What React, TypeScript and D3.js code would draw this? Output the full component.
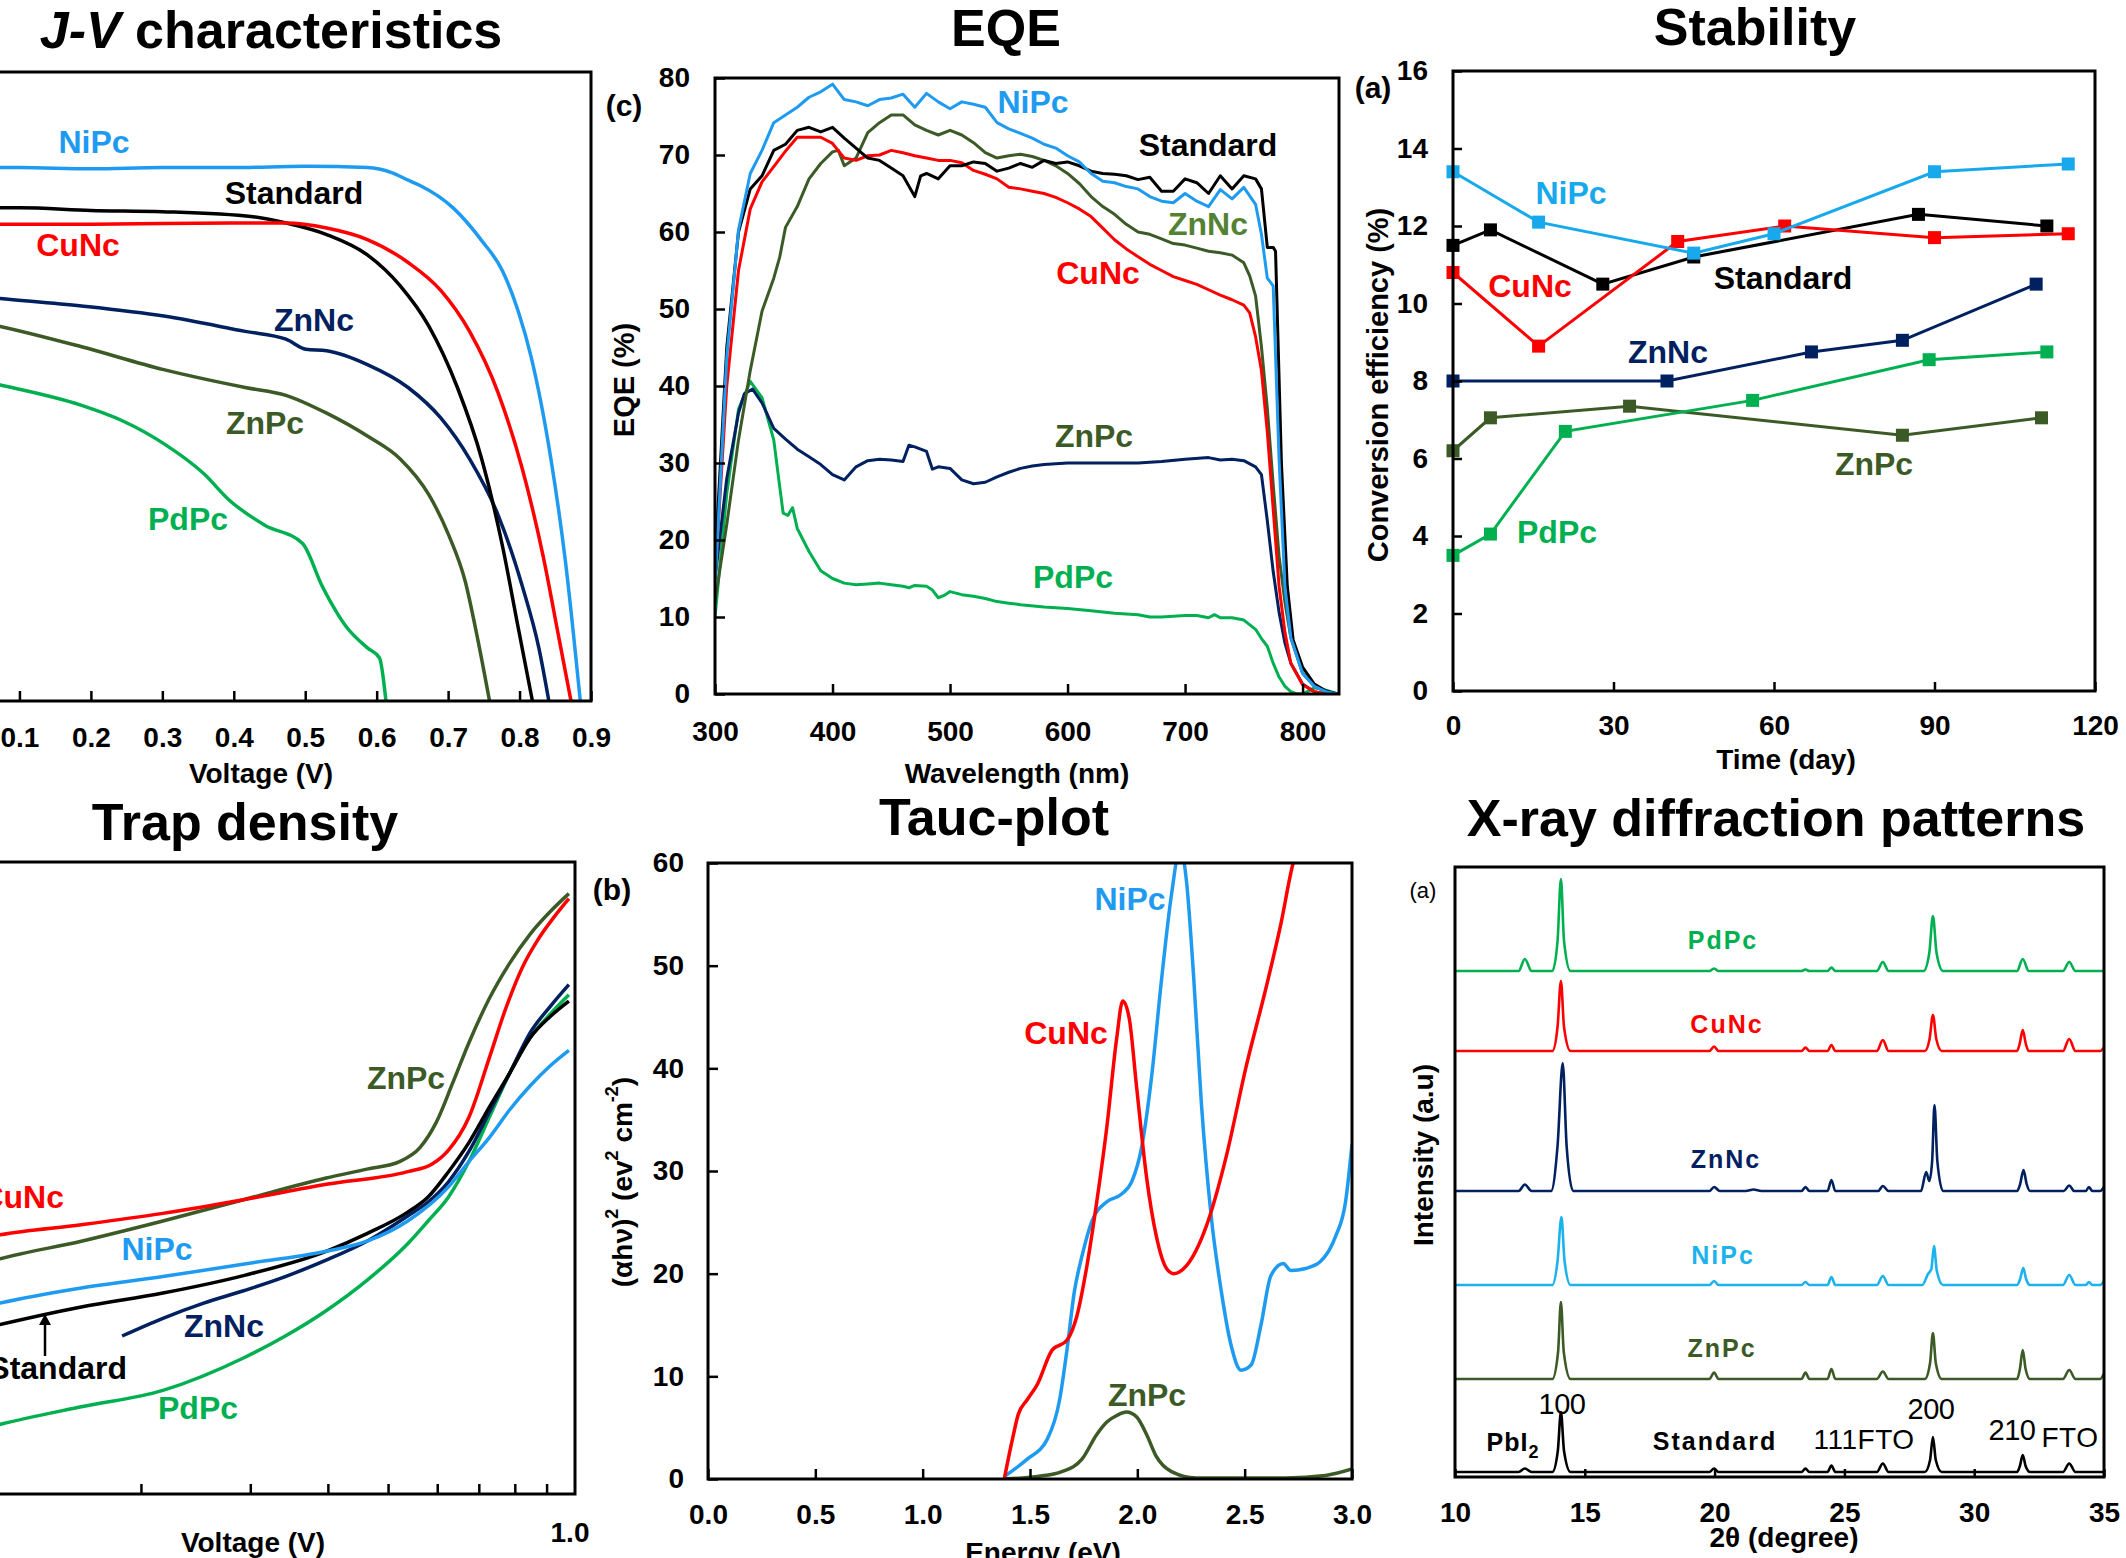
import React, { useEffect, useRef } from 'react';
import * as d3 from 'd3';

type Pt = [number, number];

const FONT = '"Liberation Sans", Arial, Helvetica, sans-serif';
const BLUE = '#1E9BF0';
const BLUE_STAB = '#17A9EC';
const BLUE_XRD = '#1CB2EC';
const NAVY = '#002060';
const OLIVE = '#3B5A26';
const OLIVE_LIGHT = '#548235';
const GREEN = '#00B050';
const RED = '#FF0000';
const BLACK = '#000000';

// ---------- J-V characteristics (voltage V, current density mA/cm2) ----------
const jvNiPc: Pt[] = [[0, 21.2], [0.1, 21.2], [0.2, 21.15], [0.3, 21.2], [0.4, 21.2], [0.5, 21.25], [0.587, 21.2], [0.621, 21.0], [0.644, 20.7], [0.66, 20.5], [0.707, 19.6], [0.747, 18.3], [0.776, 17.1], [0.798, 15.5], [0.816, 13.7], [0.844, 9.6], [0.864, 5.6], [0.885, 0]];
const jvStandard: Pt[] = [[0, 19.6], [0.1, 19.6], [0.2, 19.5], [0.3, 19.45], [0.427, 19.25], [0.473, 19.0], [0.53, 18.54], [0.587, 17.73], [0.633, 16.5], [0.673, 14.9], [0.713, 12.46], [0.747, 9.62], [0.776, 6.17], [0.798, 2.93], [0.818, 0]];
const jvCuNc: Pt[] = [[0, 18.95], [0.2, 18.95], [0.4, 19.0], [0.473, 19.0], [0.53, 18.8], [0.587, 18.34], [0.644, 17.43], [0.69, 16.31], [0.73, 14.69], [0.77, 12.25], [0.804, 9.21], [0.833, 5.76], [0.855, 2.52], [0.872, 0]];
const jvZnNc: Pt[] = [[0, 16.2], [0.073, 16.0], [0.187, 15.7], [0.302, 15.3], [0.416, 14.69], [0.473, 14.38], [0.501, 13.98], [0.53, 13.92], [0.587, 13.37], [0.644, 12.46], [0.69, 11.24], [0.73, 9.62], [0.77, 7.39], [0.804, 4.55], [0.827, 2.11], [0.841, 0]];
const jvZnPc: Pt[] = [[0, 15.3], [0.073, 14.89], [0.187, 14.08], [0.302, 13.17], [0.416, 12.46], [0.473, 12.15], [0.53, 11.44], [0.587, 10.53], [0.633, 9.62], [0.673, 8.2], [0.701, 6.58], [0.724, 4.75], [0.741, 2.52], [0.758, 0]];
const jvPdPc: Pt[] = [[0, 13.0], [0.073, 12.56], [0.187, 11.75], [0.244, 11.14], [0.302, 10.23], [0.359, 9.01], [0.393, 8.0], [0.444, 6.98], [0.496, 6.27], [0.524, 4.55], [0.558, 2.93], [0.587, 2.11], [0.604, 1.71], [0.613, 0]];
const jvTicks = [0.1, 0.2, 0.3, 0.4, 0.5, 0.6, 0.7, 0.8, 0.9];

// ---------- EQE (wavelength nm, EQE %) ----------
const eqeNiPc: Pt[] = [[300, 14], [310, 43.7], [320, 60.3], [330, 67.6], [340, 70.6], [350, 74.2], [360, 75.2], [370, 76.2], [380, 77.5], [390, 78.2], [400, 79.2], [410, 77.2], [420, 76.9], [430, 76.4], [440, 77.2], [450, 77.4], [460, 77.9], [470, 76.2], [480, 78.0], [490, 76.9], [500, 76.0], [510, 76.9], [520, 76.6], [530, 76.2], [540, 74.2], [550, 73.4], [560, 72.8], [570, 72.2], [580, 71.4], [590, 70.9], [600, 69.9], [610, 69.1], [620, 67.6], [630, 66.6], [640, 66.4], [650, 65.9], [660, 65.6], [670, 64.6], [680, 64.0], [690, 63.8], [700, 65.0], [710, 64.0], [720, 63.3], [730, 65.5], [740, 64.3], [750, 65.8], [760, 63.6], [765, 59.7], [770, 54.0], [775, 53.0], [780, 30.5], [785, 13.9], [790, 7.3], [800, 2.7], [810, 1.0], [820, 0.3], [830, 0]];
const eqeStandard: Pt[] = [[300, 17], [310, 45], [320, 60], [330, 65.6], [340, 67.3], [350, 70.6], [360, 71.4], [370, 73.2], [380, 73.6], [390, 73.0], [400, 73.6], [410, 72.2], [420, 70.9], [430, 69.6], [440, 69.3], [450, 68.3], [460, 67.3], [470, 64.6], [475, 67.3], [480, 67.6], [490, 66.9], [500, 68.6], [510, 68.6], [520, 69.1], [530, 68.9], [540, 67.9], [550, 68.3], [560, 68.9], [570, 68.4], [580, 69.3], [590, 68.9], [600, 69.1], [610, 68.6], [620, 67.9], [630, 67.6], [640, 67.5], [650, 67.3], [660, 66.8], [670, 67.1], [680, 65.3], [690, 65.3], [700, 66.9], [710, 66.4], [720, 65.0], [730, 67.3], [740, 65.6], [750, 67.3], [760, 66.9], [765, 65.6], [770, 58.0], [775, 58.0], [777, 57.5], [782, 30], [787, 14], [792, 7], [800, 3.5], [810, 1.3], [820, 0.4], [830, 0]];
const eqeCuNc: Pt[] = [[300, 15], [310, 40], [320, 55], [330, 63], [340, 66.5], [350, 68.5], [360, 70.5], [370, 72.3], [380, 72.3], [390, 72.3], [400, 71.5], [410, 69.6], [420, 69.3], [430, 69.9], [440, 70.0], [450, 70.6], [460, 70.3], [470, 69.9], [480, 69.6], [490, 69.3], [500, 69.3], [510, 69.0], [520, 68.0], [530, 67.5], [540, 66.9], [550, 65.8], [560, 65.6], [570, 65.3], [580, 65.0], [590, 64.5], [600, 63.8], [610, 63.0], [620, 62.0], [630, 60.5], [640, 59.0], [650, 57.8], [660, 56.8], [670, 55.8], [680, 55.0], [690, 54.2], [700, 53.7], [710, 53.2], [720, 52.5], [730, 51.8], [740, 51.2], [750, 50.5], [755, 49.5], [760, 46.4], [765, 42], [770, 34], [775, 24], [780, 14], [785, 8], [790, 4], [800, 1.2], [810, 0.3], [820, 0], [830, 0]];
const eqeZnNc: Pt[] = [[300, 12], [310, 22], [320, 33], [330, 42], [340, 49.7], [350, 54.0], [355, 56.7], [360, 60.6], [370, 63.3], [380, 66.9], [390, 68.9], [400, 70.4], [405, 70.6], [410, 68.6], [420, 69.6], [430, 72.9], [440, 74.2], [450, 75.2], [460, 75.2], [470, 73.9], [480, 73.2], [490, 72.6], [500, 73.2], [510, 72.6], [520, 71.6], [530, 70.3], [540, 69.6], [550, 69.9], [560, 70.1], [570, 69.8], [580, 69.3], [590, 68.6], [600, 67.6], [610, 66.3], [620, 64.6], [630, 63.3], [640, 62.3], [650, 61.0], [660, 60.0], [670, 59.7], [680, 59.1], [690, 58.5], [700, 58.3], [710, 57.9], [720, 57.5], [730, 57.3], [740, 57.0], [750, 56.0], [755, 54.3], [760, 51.7], [765, 45.1], [770, 37.1], [775, 27.2], [780, 17.9], [785, 11.9], [790, 7.3], [800, 2.7], [810, 1.0], [820, 0.3], [830, 0]];
const eqeZnPc: Pt[] = [[300, 15], [310, 28], [320, 36.5], [325, 39], [332, 39.6], [340, 37.8], [350, 34.5], [360, 33.1], [370, 31.8], [380, 30.8], [390, 29.8], [400, 28.5], [410, 27.8], [420, 29.5], [430, 30.3], [440, 30.5], [450, 30.4], [460, 30.2], [465, 32.3], [470, 32.1], [480, 31.5], [485, 29.2], [490, 29.5], [500, 29.3], [510, 27.8], [520, 27.3], [530, 27.5], [540, 28.2], [550, 28.8], [560, 29.3], [570, 29.6], [580, 29.8], [600, 30.0], [620, 30.0], [640, 30.0], [660, 30.0], [680, 30.2], [700, 30.5], [720, 30.7], [730, 30.4], [740, 30.5], [750, 30.3], [760, 29.5], [765, 28.5], [770, 22.5], [775, 15.9], [780, 10.6], [785, 6.6], [790, 4.0], [800, 1.3], [810, 0.3], [820, 0], [830, 0]];
const eqePdPc: Pt[] = [[300, 10], [310, 26], [320, 37], [330, 40.6], [340, 38.5], [350, 33], [355, 27], [358, 23.5], [362, 23.2], [366, 24.2], [370, 21.5], [380, 18.5], [390, 16.0], [400, 15.0], [410, 14.4], [420, 14.2], [430, 14.3], [440, 14.4], [450, 14.2], [460, 14.0], [465, 13.8], [470, 14.1], [480, 14.0], [485, 13.5], [490, 12.5], [495, 12.8], [500, 13.3], [510, 12.9], [520, 12.7], [530, 12.4], [540, 12.0], [550, 11.8], [560, 11.6], [580, 11.3], [600, 11.1], [620, 10.8], [640, 10.5], [660, 10.3], [670, 10.0], [680, 10.0], [700, 10.2], [710, 10.2], [720, 9.9], [725, 10.3], [730, 9.9], [740, 9.9], [750, 9.6], [760, 8.4], [765, 7.2], [770, 6.2], [775, 4.0], [780, 2.2], [785, 1.0], [790, 0.3], [795, 0], [800, 0], [810, 0.8], [820, 0.5], [830, 0]];
const eqeXTicks = [300, 400, 500, 600, 700, 800];
const eqeYTicks = [0, 10, 20, 30, 40, 50, 60, 70, 80];

// ---------- Stability (day, efficiency %) ----------
const stabNiPcDays = [0, 16, 45, 60, 90, 115];
const stabNiPc = [13.4, 12.1, 11.3, 11.8, 13.4, 13.6];
const stabStandardDays = [0, 7, 28, 45, 87, 111];
const stabStandard = [11.5, 11.9, 10.5, 11.2, 12.3, 12.0];
const stabCuNcDays = [0, 16, 42, 62, 90, 115];
const stabCuNc = [10.8, 8.9, 11.6, 12.0, 11.7, 11.8];
const stabZnNcDays = [0, 40, 67, 84, 109];
const stabZnNc = [8.0, 8.0, 8.75, 9.05, 10.5];
const stabZnPcDays = [0, 7, 33, 84, 110];
const stabZnPc = [6.2, 7.05, 7.35, 6.6, 7.05];
const stabPdPcDays = [0, 7, 21, 56, 89, 111];
const stabPdPc = [3.5, 4.05, 6.7, 7.5, 8.55, 8.75];
const stabXTicks = [0, 30, 60, 90, 120];
const stabYTicks = [0, 2, 4, 6, 8, 10, 12, 14, 16];

// ---------- Trap density (voltage V, log10 J) ----------
const trapZnPc: Pt[] = [[0.1, -3.25], [0.1185, -3.14], [0.1603, -3.0], [0.217, -2.84], [0.2936, -2.67], [0.3974, -2.5], [0.4623, -2.43], [0.5219, -2.37], [0.5627, -2.26], [0.5978, -2.06], [0.6352, -1.75], [0.6748, -1.43], [0.7278, -1.08], [0.785, -0.8], [0.8469, -0.57], [0.9133, -0.39], [0.9776, -0.25]];
const trapCuNc: Pt[] = [[0.1, -3.03], [0.1185, -2.95], [0.1603, -2.87], [0.217, -2.78], [0.2936, -2.67], [0.3974, -2.55], [0.5378, -2.45], [0.5888, -2.39], [0.6256, -2.28], [0.6748, -2.02], [0.7278, -1.55], [0.7734, -1.16], [0.8215, -0.84], [0.8727, -0.61], [0.9272, -0.43], [0.9776, -0.29]];
const trapNiPc: Pt[] = [[0.1, -3.58], [0.1185, -3.49], [0.1603, -3.37], [0.217, -3.28], [0.2936, -3.18], [0.3974, -3.08], [0.4623, -3.0], [0.5378, -2.84], [0.6256, -2.57], [0.6748, -2.37], [0.7278, -2.18], [0.785, -1.96], [0.8469, -1.77], [0.9133, -1.61], [0.9776, -1.49]];
const trapStandard: Pt[] = [[0.1, -3.75], [0.1185, -3.66], [0.1603, -3.52], [0.217, -3.41], [0.2936, -3.27], [0.3974, -3.08], [0.4623, -2.94], [0.5378, -2.77], [0.58, -2.65], [0.6256, -2.45], [0.6748, -2.22], [0.7278, -1.94], [0.785, -1.67], [0.8469, -1.39], [0.9133, -1.22], [0.9776, -1.1]];
const trapZnNc: Pt[] = [[0.1865, -3.75], [0.217, -3.61], [0.2524, -3.49], [0.2936, -3.39], [0.3416, -3.28], [0.3974, -3.15], [0.4623, -3.0], [0.5378, -2.8], [0.58, -2.69], [0.6256, -2.53], [0.6748, -2.29], [0.7278, -1.98], [0.785, -1.67], [0.8469, -1.35], [0.9133, -1.14], [0.9776, -0.97]];
const trapPdPc: Pt[] = [[0.1, -4.55], [0.1185, -4.45], [0.1603, -4.31], [0.217, -4.18], [0.2936, -3.92], [0.3416, -3.75], [0.3974, -3.55], [0.4623, -3.31], [0.5378, -3.02], [0.58, -2.84], [0.6256, -2.65], [0.6748, -2.37], [0.7278, -2.02], [0.785, -1.67], [0.8469, -1.39], [0.9133, -1.2], [0.9776, -1.05]];
const trapTicks = [0.2, 0.3, 0.4, 0.5, 0.6, 0.7, 0.8, 0.9];

// ---------- Tauc plot (energy eV, (αhν)^2) ----------
const taucCuNc: Pt[] = [[1.38, 0], [1.418, 3.86], [1.445, 6.27], [1.487, 7.72], [1.533, 9.17], [1.603, 12.55], [1.672, 13.51], [1.719, 15.93], [1.765, 20.75], [1.811, 27.0], [1.858, 34.3], [1.904, 42.95], [1.932, 46.57], [1.962, 44.9], [1.997, 38.1], [2.043, 29.4], [2.089, 23.6], [2.136, 20.5], [2.17, 20.0], [2.228, 20.75], [2.321, 24.6], [2.414, 31.4], [2.506, 40.1], [2.599, 47.8], [2.669, 54.1], [2.726, 60], [2.76, 62]];
const taucNiPc: Pt[] = [[1.38, 0.24], [1.487, 1.93], [1.58, 3.86], [1.638, 7.72], [1.672, 12.55], [1.707, 18.3], [1.742, 21.7], [1.788, 25.1], [1.858, 27.0], [1.927, 27.75], [1.974, 28.96], [2.02, 32.3], [2.066, 39.1], [2.113, 48.7], [2.159, 56.9], [2.2, 61.5], [2.228, 58.4], [2.263, 48.7], [2.298, 36.7], [2.344, 25.6], [2.391, 18.3], [2.437, 13.0], [2.483, 10.6], [2.53, 11.1], [2.576, 15.0], [2.622, 19.8], [2.68, 21.0], [2.715, 20.3], [2.784, 20.5], [2.854, 21.2], [2.923, 23.6], [2.97, 27.0], [3.0, 32.6]];
const taucZnPc: Pt[] = [[1.38, 0], [1.533, 0.24], [1.649, 0.72], [1.742, 1.93], [1.811, 4.34], [1.858, 5.55], [1.904, 6.18], [1.95, 6.52], [1.997, 6.03], [2.043, 4.34], [2.089, 2.17], [2.159, 0.72], [2.275, 0.1], [2.692, 0.1], [2.877, 0.34], [3.0, 0.97]];
const taucXTicks = [0, 0.5, 1.0, 1.5, 2.0, 2.5, 3.0];
const taucYTicks = [0, 10, 20, 30, 40, 50, 60];

// ---------- XRD (2θ degree, intensity a.u.) ----------
const xrdNames = ['Standard', 'ZnPc', 'NiPc', 'ZnNc', 'CuNc', 'PdPc'];
const xrdOffsets = [5, 98, 192, 286, 426, 506];
const xrdStandard: Pt[] = [[10, 0], [12.45, 0], [12.69, 3.5], [12.95, 0], [13.75, 0], [13.96, 21], [14.08, 60], [14.2, 21], [14.45, 0], [19.8, 0], [19.98, 3.5], [20.15, 0], [23.35, 0], [23.5, 3.5], [23.65, 0], [24.35, 0], [24.5, 6.5], [24.65, 0], [26.25, 0], [26.48, 8.5], [26.7, 0], [28.1, 0], [28.3, 12], [28.41, 35], [28.52, 12], [28.75, 0], [31.65, 0], [31.76, 6], [31.87, 17], [31.98, 6], [32.15, 0], [33.42, 0], [33.66, 8.5], [33.9, 0], [35, 0]];
const xrdZnPc: Pt[] = [[10, 0], [13.75, 0], [13.97, 27], [14.08, 77], [14.19, 27], [14.45, 0], [19.8, 0], [19.98, 6.5], [20.15, 0], [23.35, 0], [23.5, 6.5], [23.65, 0], [24.35, 0], [24.5, 10], [24.65, 0], [26.25, 0], [26.48, 7.5], [26.7, 0], [28.1, 0], [28.3, 16], [28.41, 46], [28.52, 16], [28.75, 0], [31.65, 0], [31.76, 10], [31.87, 29], [31.98, 10], [32.15, 0], [33.42, 0], [33.66, 9], [33.9, 0], [34.85, 0], [35, 5.5]];
const xrdNiPc: Pt[] = [[10, 0], [13.75, 0], [13.95, 24], [14.1, 68], [14.22, 24], [14.45, 0], [19.8, 0], [19.98, 4], [20.15, 0], [23.35, 0], [23.5, 3], [23.65, 0], [24.35, 0], [24.5, 8], [24.65, 0], [26.25, 0], [26.48, 9], [26.7, 0], [28.0, 0], [28.22, 11], [28.35, 16], [28.45, 39], [28.56, 14], [28.8, 0], [31.65, 0], [31.77, 6], [31.89, 17], [32.0, 6], [32.15, 0], [33.42, 0], [33.66, 10], [33.9, 0], [34.3, 0], [34.42, 3], [34.55, 0], [34.85, 0], [35, 4]];
const xrdZnNc: Pt[] = [[10, 0], [12.45, 0], [12.69, 6.5], [12.95, 0], [13.7, 0], [13.95, 45], [14.15, 128], [14.3, 45], [14.55, 0], [19.8, 0], [19.98, 4], [20.2, 0], [21.2, 0], [21.5, 1.5], [21.8, 0], [23.35, 0], [23.5, 4], [23.65, 0], [24.35, 0], [24.5, 11], [24.65, 0], [26.3, 0], [26.48, 5], [26.7, 0], [27.95, 0], [28.15, 19], [28.27, 10], [28.38, 30], [28.47, 86], [28.58, 30], [28.8, 0], [31.65, 0], [31.77, 7], [31.9, 21], [32.02, 7], [32.15, 0], [33.45, 0], [33.66, 5.5], [33.85, 0], [34.3, 0], [34.42, 4], [34.55, 0], [34.85, 0], [35, 4]];
const xrdCuNc: Pt[] = [[10, 0], [13.75, 0], [13.95, 24], [14.08, 70], [14.2, 24], [14.45, 0], [19.8, 0], [19.98, 4.5], [20.15, 0], [23.35, 0], [23.5, 3.5], [23.65, 0], [24.35, 0], [24.5, 6], [24.65, 0], [26.25, 0], [26.48, 11], [26.7, 0], [28.1, 0], [28.28, 12], [28.41, 36], [28.54, 12], [28.75, 0], [31.65, 0], [31.75, 7], [31.87, 21], [31.99, 7], [32.1, 0], [33.42, 0], [33.66, 12], [33.9, 0], [34.85, 0], [35, 3.5]];
const xrdPdPc: Pt[] = [[10, 0], [12.45, 0], [12.69, 12], [12.95, 0], [13.75, 0], [13.95, 30], [14.08, 92], [14.2, 30], [14.45, 0], [19.8, 0], [19.98, 2.5], [20.15, 0], [23.35, 0], [23.5, 1.5], [23.65, 0], [24.35, 0], [24.5, 3.5], [24.65, 0], [26.25, 0], [26.48, 9], [26.7, 0], [28.05, 0], [28.27, 18], [28.41, 55], [28.55, 18], [28.8, 0], [31.65, 0], [31.87, 12], [32.1, 0], [33.42, 0], [33.66, 9], [33.9, 0], [35, 0]];
const xrdTicks = [10, 15, 20, 25, 30, 35];

type G = d3.Selection<SVGGElement, unknown, null, undefined>;

function addText(g: G, x: number, y: number, txt: string, o: any = {}) {
  const t = g.append('text')
    .attr('x', x)
    .attr('y', y)
    .attr('font-family', o.family ?? FONT)
    .attr('font-weight', o.weight ?? 'bold')
    .attr('font-size', o.size ?? 32)
    .attr('fill', o.fill ?? BLACK)
    .attr('text-anchor', o.anchor ?? 'middle')
    .attr('dominant-baseline', 'central')
    .text(txt);
  if (o.rotate) t.attr('transform', `rotate(-90, ${x}, ${y})`);
  if (o.spacing !== undefined) t.attr('letter-spacing', o.spacing);
  return t;
}

function frame(g: G, x0: number, y0: number, x1: number, y1: number) {
  g.append('rect')
    .attr('x', x0).attr('y', y0)
    .attr('width', x1 - x0).attr('height', y1 - y0)
    .attr('fill', 'none').attr('stroke', BLACK).attr('stroke-width', 3);
}

function styleAxis(sel: G, size = 28) {
  sel.select('.domain').remove();
  sel.selectAll('line').attr('stroke', BLACK).attr('stroke-width', 2.5);
  sel.selectAll('text')
    .attr('font-family', FONT)
    .attr('font-weight', 'bold')
    .attr('font-size', size)
    .attr('fill', BLACK);
}

const App = () => {
  const ref = useRef<SVGSVGElement>(null);

  useEffect(() => {
    const svg = d3.select(ref.current as SVGSVGElement);
    svg.selectAll('*').remove();
    const root = svg.append('g') as unknown as G;
    const defs = svg.append('defs');

    const clip = (id: string, x0: number, y0: number, x1: number, y1: number) => {
      defs.append('clipPath').attr('id', id)
        .append('rect').attr('x', x0).attr('y', y0).attr('width', x1 - x0).attr('height', y1 - y0);
      return `url(#${id})`;
    };

    const drawLine = (g: G, data: Pt[], x: any, y: any, color: string, width: number, curve: any, clipUrl: string) => {
      const line = d3.line<Pt>().x(d => x(d[0])).y(d => y(d[1])).curve(curve);
      g.append('path')
        .datum(data)
        .attr('d', line)
        .attr('fill', 'none')
        .attr('stroke', color)
        .attr('stroke-width', width)
        .attr('stroke-linejoin', 'round')
        .attr('clip-path', clipUrl);
    };

    // ===== Panel 1: J-V characteristics =====
    {
      const g = root.append('g') as G;
      const x = d3.scaleLinear().domain([0, 0.9]).range([-52, 591]);
      const y = d3.scaleLinear().domain([0, 25]).range([701, 72]);
      const c = clip('clip-jv', -52, 72, 591, 701);
      const series: [Pt[], string][] = [[jvPdPc, GREEN], [jvZnPc, OLIVE], [jvZnNc, NAVY], [jvStandard, BLACK], [jvCuNc, RED], [jvNiPc, BLUE]];
      series.forEach(([d, col]) => drawLine(g, d, x, y, col, 3.5, d3.curveMonotoneX, c));
      frame(g, -52, 72, 591, 701);
      const ax = g.append('g').attr('transform', 'translate(0,701)')
        .call(d3.axisBottom(x).tickValues(jvTicks).tickSize(-10).tickPadding(26).tickFormat(d3.format('.1f')) as any) as unknown as G;
      styleAxis(ax);
      addText(g, 261, 773, 'Voltage (V)', { size: 28 });
      const title = addText(g, 271, 30, '', { size: 52 });
      title.append('tspan').attr('font-style', 'italic').text('J-V');
      title.append('tspan').text(' characteristics');
      addText(g, 94, 142, 'NiPc', { fill: BLUE });
      addText(g, 294, 193, 'Standard', { fill: BLACK });
      addText(g, 78, 245, 'CuNc', { fill: RED });
      addText(g, 314, 320, 'ZnNc', { fill: NAVY });
      addText(g, 265, 423, 'ZnPc', { fill: OLIVE });
      addText(g, 188, 519, 'PdPc', { fill: GREEN });
      addText(g, 624, 105, '(c)', { size: 30 });
    }

    // ===== Panel 2: EQE =====
    {
      const g = root.append('g') as G;
      const x = d3.scaleLinear().domain([300, 831]).range([715, 1339]);
      const y = d3.scaleLinear().domain([0, 80]).range([694, 78]);
      const c = clip('clip-eqe', 715, 78, 1339, 694);
      const series: [Pt[], string][] = [[eqePdPc, GREEN], [eqeZnPc, NAVY], [eqeZnNc, OLIVE], [eqeCuNc, RED], [eqeStandard, BLACK], [eqeNiPc, BLUE]];
      series.forEach(([d, col]) => drawLine(g, d, x, y, col, 3, d3.curveLinear, c));
      frame(g, 715, 78, 1339, 694);
      const ax = g.append('g').attr('transform', 'translate(0,694)')
        .call(d3.axisBottom(x).tickValues(eqeXTicks).tickSize(-10).tickPadding(27) as any) as unknown as G;
      styleAxis(ax);
      const ay = g.append('g').attr('transform', 'translate(715,0)')
        .call(d3.axisLeft(y).tickValues(eqeYTicks).tickSize(-10).tickPadding(25) as any) as unknown as G;
      styleAxis(ay);
      addText(g, 1017, 773, 'Wavelength (nm)', { size: 28 });
      addText(g, 624, 380, 'EQE (%)', { size: 29, rotate: true });
      addText(g, 1006, 28, 'EQE', { size: 52 });
      addText(g, 1033, 102, 'NiPc', { fill: BLUE });
      addText(g, 1208, 145, 'Standard', { fill: BLACK });
      addText(g, 1208, 224, 'ZnNc', { fill: OLIVE_LIGHT });
      addText(g, 1098, 273, 'CuNc', { fill: RED });
      addText(g, 1094, 436, 'ZnPc', { fill: OLIVE });
      addText(g, 1073, 577, 'PdPc', { fill: GREEN });
    }

    // ===== Panel 3: Stability =====
    {
      const g = root.append('g') as G;
      const x = d3.scaleLinear().domain([0, 120]).range([1453, 2095]);
      const y = d3.scaleLinear().domain([0, 16]).range([691, 71]);
      const series: [number[], number[], string][] = [
        [stabZnPcDays, stabZnPc, OLIVE],
        [stabPdPcDays, stabPdPc, GREEN],
        [stabZnNcDays, stabZnNc, NAVY],
        [stabStandardDays, stabStandard, BLACK],
        [stabCuNcDays, stabCuNc, RED],
        [stabNiPcDays, stabNiPc, BLUE_STAB],
      ];
      series.forEach(([days, vals, col]) => {
        const pts: Pt[] = days.map((d, i) => [d, vals[i]]);
        g.append('path')
          .datum(pts)
          .attr('d', d3.line<Pt>().x(d => x(d[0])).y(d => y(d[1])))
          .attr('fill', 'none').attr('stroke', col).attr('stroke-width', 3);
        g.selectAll(null).data(pts).enter().append('rect')
          .attr('x', d => x(d[0]) - 6.5).attr('y', d => y(d[1]) - 6.5)
          .attr('width', 13).attr('height', 13).attr('fill', col);
      });
      frame(g, 1453, 71, 2095, 691);
      const ax = g.append('g').attr('transform', 'translate(0,691)')
        .call(d3.axisBottom(x).tickValues(stabXTicks).tickSize(-9).tickPadding(24) as any) as unknown as G;
      styleAxis(ax);
      const ay = g.append('g').attr('transform', 'translate(1453,0)')
        .call(d3.axisLeft(y).tickValues(stabYTicks).tickSize(-9).tickPadding(25) as any) as unknown as G;
      styleAxis(ay);
      addText(g, 1786, 759, 'Time (day)', { size: 28 });
      addText(g, 1378, 385, 'Conversion efficiency (%)', { size: 29, rotate: true });
      addText(g, 1755, 27, 'Stability', { size: 52 });
      addText(g, 1373, 87, '(a)', { size: 30 });
      addText(g, 1571, 193, 'NiPc', { fill: BLUE_STAB });
      addText(g, 1530, 286, 'CuNc', { fill: RED });
      addText(g, 1783, 278, 'Standard', { fill: BLACK });
      addText(g, 1668, 352, 'ZnNc', { fill: NAVY });
      addText(g, 1874, 464, 'ZnPc', { fill: OLIVE });
      addText(g, 1557, 532, 'PdPc', { fill: GREEN });
    }

    // ===== Panel 4: Trap density =====
    {
      const g = root.append('g') as G;
      const x = d3.scaleLog().domain([0.1, 1]).range([-46, 575]);
      const y = d3.scaleLinear().domain([-5, 0]).range([1494, 862]);
      const c = clip('clip-trap', -46, 862, 575, 1494);
      const series: [Pt[], string][] = [[trapPdPc, GREEN], [trapZnNc, NAVY], [trapStandard, BLACK], [trapNiPc, BLUE], [trapZnPc, OLIVE], [trapCuNc, RED]];
      series.forEach(([d, col]) => drawLine(g, d, x, y, col, 3.5, d3.curveMonotoneX, c));
      frame(g, -46, 862, 575, 1494);
      const ax = g.append('g').attr('transform', 'translate(0,1494)')
        .call(d3.axisBottom(x).tickValues(trapTicks).tickSize(-10).tickFormat(() => '') as any) as unknown as G;
      styleAxis(ax);
      addText(g, 570, 1532, '1.0', { size: 28 });
      addText(g, 253, 1542, 'Voltage (V)', { size: 28 });
      addText(g, 245, 822, 'Trap density', { size: 52 });
      addText(g, 612, 889, '(b)', { size: 30 });
      addText(g, 406, 1078, 'ZnPc', { fill: OLIVE });
      addText(g, 64, 1197, 'CuNc', { fill: RED, anchor: 'end' });
      addText(g, 157, 1249, 'NiPc', { fill: BLUE });
      addText(g, 224, 1326, 'ZnNc', { fill: NAVY });
      addText(g, 127, 1368, 'Standard', { fill: BLACK, anchor: 'end' });
      addText(g, 198, 1408, 'PdPc', { fill: GREEN });
      // arrow pointing to the Standard curve
      g.append('line').attr('x1', 45).attr('y1', 1356).attr('x2', 45).attr('y2', 1322)
        .attr('stroke', BLACK).attr('stroke-width', 2.5);
      g.append('path').attr('d', 'M45,1314 L39,1325 L51,1325 Z').attr('fill', BLACK);
    }

    // ===== Panel 5: Tauc plot =====
    {
      const g = root.append('g') as G;
      const x = d3.scaleLinear().domain([0, 3]).range([708, 1352]);
      const y = d3.scaleLinear().domain([0, 60]).range([1479, 863]);
      const c = clip('clip-tauc', 708, 863, 1352, 1479);
      const series: [Pt[], string][] = [[taucZnPc, OLIVE], [taucNiPc, BLUE], [taucCuNc, RED]];
      series.forEach(([d, col]) => drawLine(g, d, x, y, col, 3.5, d3.curveMonotoneX, c));
      frame(g, 708, 863, 1352, 1479);
      const ax = g.append('g').attr('transform', 'translate(0,1479)')
        .call(d3.axisBottom(x).tickValues(taucXTicks).tickSize(-10).tickPadding(25).tickFormat(d3.format('.1f')) as any) as unknown as G;
      styleAxis(ax);
      const ay = g.append('g').attr('transform', 'translate(708,0)')
        .call(d3.axisLeft(y).tickValues(taucYTicks).tickSize(-10).tickPadding(24) as any) as unknown as G;
      styleAxis(ay);
      addText(g, 1043, 1552, 'Energy (eV)', { size: 28 });
      addText(g, 994, 817, 'Tauc-plot', { size: 52 });
      const yl = addText(g, 622, 1182, '', { size: 28, rotate: true });
      yl.append('tspan').text('(αhν)');
      yl.append('tspan').attr('baseline-shift', 'super').attr('font-size', 18).text('2');
      yl.append('tspan').text(' (ev');
      yl.append('tspan').attr('baseline-shift', 'super').attr('font-size', 18).text('2');
      yl.append('tspan').text(' cm');
      yl.append('tspan').attr('baseline-shift', 'super').attr('font-size', 18).text('-2');
      yl.append('tspan').text(')');
      addText(g, 1130, 899, 'NiPc', { fill: BLUE });
      addText(g, 1066, 1033, 'CuNc', { fill: RED });
      addText(g, 1147, 1395, 'ZnPc', { fill: OLIVE });
    }

    // ===== Panel 6: X-ray diffraction patterns =====
    {
      const g = root.append('g') as G;
      const x = d3.scaleLinear().domain([10, 35]).range([1455, 2104]);
      const y = d3.scaleLinear().domain([0, 610]).range([1477, 867]);
      const c = clip('clip-xrd', 1455, 867, 2104, 1477);
      const traces = [xrdStandard, xrdZnPc, xrdNiPc, xrdZnNc, xrdCuNc, xrdPdPc];
      const colors = [BLACK, OLIVE, BLUE_XRD, NAVY, RED, GREEN];
      traces.forEach((d, i) => {
        const shifted: Pt[] = d.map(p => [p[0], p[1] + xrdOffsets[i]]);
        drawLine(g, shifted, x, y, colors[i], 2.6, d3.curveMonotoneX, c);
      });
      frame(g, 1455, 867, 2104, 1477);
      const ax = g.append('g').attr('transform', 'translate(0,1477)')
        .call(d3.axisBottom(x).tickValues(xrdTicks).tickSize(-8).tickPadding(25) as any) as unknown as G;
      styleAxis(ax);
      addText(g, 1784, 1537, '2θ (degree)', { size: 28 });
      addText(g, 1423, 1155, 'Intensity (a.u)', { size: 28, rotate: true });
      addText(g, 1776, 818, 'X-ray diffraction patterns', { size: 52 });
      addText(g, 1423, 890, '(a)', { size: 22, weight: 'normal' });
      const labelPos: Pt[] = [[1715, 1441], [1722, 1348], [1723, 1255], [1726, 1159], [1727, 1024], [1723, 940]];
      xrdNames.forEach((n, i) => {
        addText(g, labelPos[i][0], labelPos[i][1], n, { size: 25, fill: colors[i], spacing: 2 });
      });
      const pb = addText(g, 1513, 1442, '', { size: 25, spacing: 1 });
      pb.append('tspan').text('PbI');
      pb.append('tspan').attr('baseline-shift', 'sub').attr('font-size', 18).text('2');
      addText(g, 1562, 1404, '100', { size: 29, weight: 'normal', spacing: -0.5 });
      addText(g, 1931, 1409, '200', { size: 29, weight: 'normal', spacing: -0.5 });
      addText(g, 1864, 1439, '111FTO', { size: 28, weight: 'normal', spacing: 0.5 });
      addText(g, 2012, 1430, '210', { size: 29, weight: 'normal', spacing: -0.5 });
      addText(g, 2070, 1437, 'FTO', { size: 28, weight: 'normal', spacing: 0.5 });
    }
  }, []);

  return (
    <svg
      ref={ref}
      width={2126}
      height={1558}
      style={{ position: 'absolute', left: 0, top: 0, background: '#ffffff' }}
    />
  );
};

export default App;
